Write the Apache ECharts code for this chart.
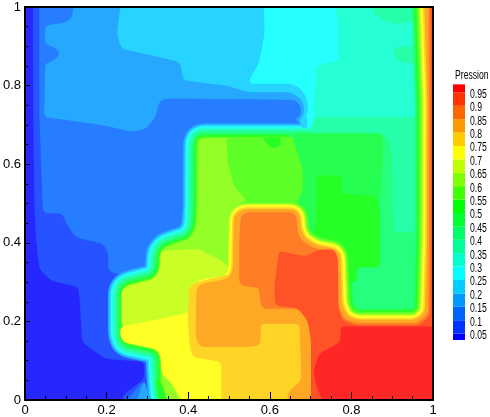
<!DOCTYPE html>
<html>
<head>
<meta charset="utf-8">
<style>html,body{margin:0;padding:0;background:#fff}#c{width:490px;height:417px}</style>
<script src="https://cdn.jsdelivr.net/npm/echarts@6/dist/echarts.min.js"></script>
</head>
<body>
<div id="c"></div>
<script>
// Pressure bands: band k holds values between k*0.05 and (k+1)*0.05
const bandColors = ['#0000ff','#0033ff','#0066ff','#0099ff','#00ccff','#00ffff','#00ffcc','#00ff99','#00ff66','#00ff33',
  '#00ff00','#40ff00','#80ff00','#bfff00','#ffff00','#ffcc00','#ff9900','#ff6600','#ff3300','#ff0000'];
const legendTicks = [0.05,0.1,0.15,0.2,0.25,0.3,0.35,0.4,0.45,0.5,0.55,0.6,0.65,0.7,0.75,0.8,0.85,0.9,0.95];
const legendEnds = [0.026,0.98];
const axisTicks = [0,0.2,0.4,0.6,0.8,1];

// Contour outlines, in axis units [x, y]
const square = [[-.02,-.02],[1.02,-.02],[1.02,1.02],[-.02,1.02]];
const c1 = [[.019,1.02],[.02,.7],[.023,.49],[.027,.406],[.035,.333],[.063,.304],[.131,.287],[.135,.236],[.14,.147],[.168,.126],[.196,.105],[.292,.097],[.292,.054],[.24,.012],[.23,-.02],[1.02,-.02],[1.02,1.02]];
const c2 = [[.035,1.02],[.035,.72],[.043,.49],[.047,.475],[.091,.475],[.102,.448],[.124,.414],[.192,.397],[.204,.372],[.204,.329],[.225,.32],[.4,.32],[.5,-.02],[1.02,-.02],[1.02,1.02]];
const c3 = [[.12,1.02],[.115,.97],[.095,.96],[.049,.953],[.049,.906],[.078,.894],[.086,.877],[.063,.86],[.049,.856],[.047,.72],[.192,.699],[.264,.682],[.296,.69],[.32,.72],[.328,.758],[.344,.767],[.66,.764],[.676,.75],[.676,.724],[.66,.713],[.7,.69],[1.02,.69],[1.02,1.02]];
const c4 = [[.236,1.02],[.225,.932],[.236,.894],[.38,.86],[.388,.813],[.493,.80],[.549,.783],[.653,.783],[.681,.762],[.685,.728],[.669,.708],[.7,.69],[1.02,.69],[1.02,1.02]];
const c5 = [[.585,1.02],[.587,.932],[.573,.856],[.553,.822],[.549,.805],[.653,.805],[.677,.792],[.693,.762],[.693,.724],[.669,.699],[.7,.69],[1.02,.69],[1.02,1.02]];
const barEnd4 = [[.678,.72],[.692,.72],[.692,.68],[.678,.68]];
const barEnd5 = [[.692,.74],[.73,.74],[.73,.66],[.692,.66]];
const c6 = [[.753,1.02],[.769,.965],[.769,.864],[.713,.851],[.709,.724],[.705,.70],[.69,.68],[.69,.66],[1.02,.66],[1.02,1.02]];
const c7top = [[.853,1.02],[.857,.98],[.901,.957],[.96,.965],[.96,1.02]];
const c7mid = [[.901,.883],[.915,.9],[.96,.9],[.96,.855],[.925,.858],[.91,.868]];
const stair = [[.43,.666],[.4236,.655],[.423,.49],[.42,.44],[.404,.41],[.344,.389],[.332,.372],[.33,.33],[.316,.308],[.252,.291],[.24,.279],[.24,.169],[.246,.147],[.32,.13],[.332,.114],[.335,.05],[.338,.01],[.37,-.02],[1.02,-.02],[1.02,.666]];
const foot2 = [[.24,-.01],[.292,.05],[.30,-.01]];
const foot3 = [[.27,-.01],[.292,.05],[.31,-.01]];
const foot10 = [[.33,-.01],[.318,.06],[.375,-.01]];
const foot12 = [[.35,-.01],[.335,.05],[.395,-.01]];
const rightField = [[.65,.683],[1.02,.683],[1.02,.1],[.65,.1]];
const c7low = [[.709,.72],[1.02,.72],[1.02,.427],[.902,.427],[.9,.62],[.893,.66],[.87,.68],[.70,.68]];
const hotRight = [[.535,.486],[.657,.486],[.673,.474],[.677,.431],[.689,.41],[.717,.393],[.761,.385],[.773,.368],[.777,.245],[.789,.215],[.813,.204],[.958,.204],[.98,.224],[.985,.406],[.986,.762],[.979,.995],[.977,1.02],[1.02,1.02],[1.02,-.02],[.535,-.02]];
const c12cap = [[.49,.55],[.56,.55],[.56,.44],[.49,.44]];
const c11 = [[.493,.668],[.70,.668],[.70,.44],[.54,.44],[.541,.512],[.513,.542],[.497,.602]];
const c9 = [[.653,.678],[.878,.678],[.878,.62],[.87,.5],[.87,.338],[.813,.338],[.813,.3],[.66,.3],[.66,.43],[.669,.508],[.681,.535],[.681,.585]];
const c10 = [[.713,.572],[.777,.572],[.777,.525],[.857,.52],[.87,.483],[.87,.338],[.813,.338],[.813,.3],[.70,.3],[.70,.40],[.713,.45]];
const notch = [[.581,.668],[.604,.64],[.625,.644],[.629,.668]];
const hot = [[.5206,.478],[.512,.465],[.509,.33],[.497,.308],[.432,.296],[.42,.283],[.418,.16],[.428,.135],[.549,.135],[.577,.139],[.577,.194],[.673,.194],[.677,.05],[.645,.02],[.641,-.02],[1.02,-.02],[1.02,1.02],[.977,1.02],[.979,.995],[.986,.762],[.985,.406],[.98,.224],[.958,.204],[.813,.204],[.789,.215],[.777,.245],[.773,.368],[.761,.385],[.717,.393],[.689,.41],[.677,.431],[.673,.474],[.657,.486],[.535,.486]];
const c13 = [[.336,.38],[.424,.385],[.473,.359],[.5,.34],[.5,.25],[.384,.219],[.28,.196],[.236,.188],[.236,.279],[.252,.291],[.316,.308],[.33,.33],[.332,.372]];
const c14 = [[.236,.188],[.28,.196],[.384,.219],[.45,.24],[.5,.24],[.5,-.02],[.392,-.02],[.36,.042],[.335,.067],[.332,.114],[.32,.13],[.24,.147],[.232,.169]];
const c15 = [[.412,.297],[.402,.283],[.399,.202],[.404,.135],[.412,.109],[.481,.097],[.481,-.02],[.69,-.02],[.69,.3],[.50,.32]];
const c17 = [[.529,.469],[.545,.478],[.653,.478],[.665,.469],[.669,.423],[.681,.402],[.713,.385],[.757,.376],[.767,.363],[.769,.24],[.781,.207],[.81,.196],[.962,.196],[.988,.219],[.99,.406],[.99,.762],[.989,1.02],[1.02,1.02],[1.02,-.02],[.701,-.02],[.701,.152],[.693,.202],[.669,.232],[.585,.232],[.577,.245],[.573,.287],[.549,.287],[.525,.294],[.525,.406]];
const c18 = [[.622,.38],[.669,.369],[.689,.366],[.721,.383],[.759,.383],[.767,.359],[.767,.24],[.777,.204],[.81,.19],[.966,.19],[.993,.215],[.995,.406],[.995,.762],[.994,1.02],[1.02,1.02],[1.02,-.02],[.701,-.02],[.701,.152],[.693,.202],[.669,.234],[.613,.24],[.611,.287],[.617,.338]];
const c19 = [[.773,.187],[.773,.147],[.721,.118],[.707,.075],[.713,.042],[.735,-.02],[1.02,-.02],[1.02,.187]];

// Paint order: outline, band, widening of the outline
const layers = [
  [square,0,0],[c1,1,0],[c2,2,0],[c3,3,0],[c4,4,0],[c5,5,0],
  [stair,3,30],[stair,4,27],[stair,5,24],[barEnd4,4,0],[barEnd5,5,0],
  [c6,6,0],[c7top,7,0],[c7mid,7,0],
  [stair,6,21],[stair,7,17],[stair,8,13],[stair,9,9],[stair,10,6],[stair,11,3],[stair,12,0],
  [foot2,2,0],[foot3,3,0],[foot10,10,0],[foot12,12,0],
  [rightField,8,0],[c7low,7,0],
  [hotRight,8,25],[hotRight,9,22],[hotRight,10,19],
  [c12cap,12,0],[c11,11,0],[c9,9,0],[c10,10,0],[notch,10,0],
  [hotRight,11,16],
  [hot,12,12],[c13,13,0],[hot,13,10],[c14,14,0],[hot,14,8],[hot,15,3.4],
  [c15,15,0],[hot,16,0],[c17,17,0],[c18,18,0],[c19,19,0]
];

const textFont = 'Liberation Sans';

function lighten(hex){
  const n = parseInt(hex.slice(1),16), mix = v => Math.round(v + (255 - v) * 0.15);
  return 'rgb(' + mix(n>>16&255) + ',' + mix(n>>8&255) + ',' + mix(n&255) + ')';
}
const fieldColors = bandColors.map(lighten);

// Rounds each corner of a pixel outline without moving its long edges
function roundCorners(pts, r){
  const out = [], n = pts.length;
  for(let i=0;i<n;i++){
    const p=pts[i], q=pts[(i+n-1)%n], s=pts[(i+1)%n];
    const d0=Math.hypot(q[0]-p[0],q[1]-p[1])||1, d1=Math.hypot(s[0]-p[0],s[1]-p[1])||1;
    const t0=Math.min(r,d0/2)/d0, t1=Math.min(r,d1/2)/d1;
    const a=[p[0]+(q[0]-p[0])*t0,p[1]+(q[1]-p[1])*t0], b=[p[0]+(s[0]-p[0])*t1,p[1]+(s[1]-p[1])*t1];
    for(let j=0;j<=4;j++){
      const t=j/4,u=1-t;
      out.push([u*u*a[0]+2*u*t*p[0]+t*t*b[0],u*u*a[1]+2*u*t*p[1]+t*t*b[1]]);
    }
  }
  return out;
}

const chart = echarts.init(document.getElementById('c'), null, {renderer:'canvas'});
const line2 = {show:true, onZero:false, lineStyle:{color:'#000', width:2}};
chart.setOption({
  animation:false,
  backgroundColor:'#fff',
  grid:[
    {left:17, top:7, width:416, height:393, containLabel:false},
    {left:453, top:79, width:12, height:268, containLabel:false}
  ],
  xAxis:[
    {type:'value', gridIndex:0, min:0, max:1, interval:.2, z:5, position:'bottom', axisLine:line2,
     axisTick:{show:true, inside:true, length:8, lineStyle:{color:'#000', width:1}},
     minorTick:{show:true, splitNumber:4, length:4, lineStyle:{color:'#000', width:1}},
     splitLine:{show:false}, minorSplitLine:{show:false},
     axisLabel:{show:true, margin:4, color:'#000', fontFamily:textFont, fontSize:13, customValues:axisTicks}},
    {type:'value', gridIndex:0, min:0, max:1, z:5, position:'top', axisLine:line2, axisTick:{show:false}, axisLabel:{show:false}, splitLine:{show:false}},
    {type:'value', gridIndex:1, min:0, max:1, show:false}
  ],
  yAxis:[
    {type:'value', gridIndex:0, min:0, max:1, interval:.2, z:5, position:'left', axisLine:line2,
     axisTick:{show:true, inside:true, length:5, lineStyle:{color:'#000', width:1}},
     minorTick:{show:true, splitNumber:4, length:3, lineStyle:{color:'#000', width:1}},
     splitLine:{show:false}, minorSplitLine:{show:false},
     axisLabel:{show:true, margin:4, color:'#000', fontFamily:textFont, fontSize:13, customValues:axisTicks}},
    {type:'value', gridIndex:0, min:0, max:1, z:5, position:'right', axisLine:line2, axisTick:{show:false}, axisLabel:{show:false}, splitLine:{show:false}},
    {type:'value', gridIndex:1, min:0, max:1, show:false}
  ],
  series:[
    {type:'custom', xAxisIndex:0, yAxisIndex:0, clip:true, silent:true, progressive:0, z:2,
     data:layers.map((l,i)=>[i]),
     renderItem(params, api){
       const [outline, band, widen] = layers[api.value(0)];
       const color = fieldColors[band];
       return {type:'polygon',
         shape:{points:roundCorners(outline.map(p=>api.coord(p)),5)},
         style:{fill:color, stroke:widen?color:null, lineWidth:widen, lineJoin:'round'}};
     }},
    {type:'custom', xAxisIndex:2, yAxisIndex:2, silent:true, progressive:0, z:2,
     data:bandColors.map((c,i)=>[i]),
     renderItem(params, api){
       const k = api.value(0);
       const lo = k===0 ? legendEnds[0] : legendTicks[k-1];
       const hi = k===19 ? legendEnds[1] : legendTicks[k];
       const a = api.coord([0,hi]), b = api.coord([1,lo]);
       return {type:'rect', shape:{x:a[0], y:a[1], width:b[0]-a[0], height:b[1]-a[1]}, style:{fill:bandColors[k]}};
     }},
    // Legend tick labels and title, condensed like the reference lettering
    {type:'custom', xAxisIndex:2, yAxisIndex:2, silent:true, progressive:0, z:3, clip:false,
     data:legendTicks.map(v=>[v]),
     renderItem(params, api){
       const v = api.value(0), a = api.coord([1,v]);
       return {type:'text', x:a[0]+5, y:a[1]+2, scaleX:.72, scaleY:1,
         style:{text:String(v), fill:'#000', font:'12px '+textFont, textAlign:'left', textVerticalAlign:'middle'}};
     }},
    {type:'custom', xAxisIndex:2, yAxisIndex:2, silent:true, progressive:0, z:3, clip:false,
     data:[[1]],
     renderItem(params, api){
       const a = api.coord([0,1]);
       return {type:'text', x:a[0]+2, y:a[1]-3, scaleX:.72, scaleY:1,
         style:{text:'Pression', fill:'#000', font:'12px '+textFont, textAlign:'left', textVerticalAlign:'middle'}};
     }}
  ]
});
</script>
</body>
</html>
